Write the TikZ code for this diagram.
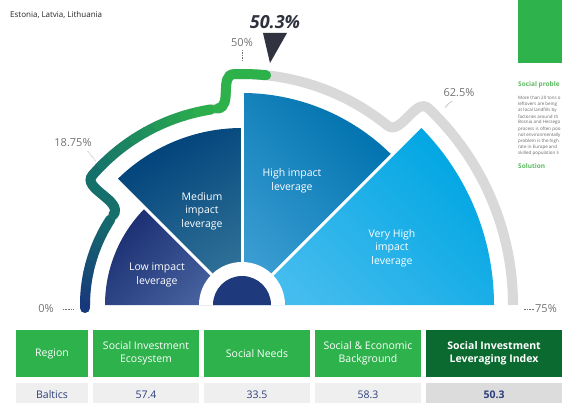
\documentclass[tikz,border=0pt]{standalone}
\usepackage{fontspec}
\setmainfont{Open Sans}
\usetikzlibrary{positioning,calc}

\definecolor{lowtop}{HTML}{1B2F72}
\definecolor{lowbot}{HTML}{4A66A2}
\definecolor{medtop}{HTML}{00427A}
\definecolor{medbot}{HTML}{327399}
\definecolor{hightop}{HTML}{0072AE}
\definecolor{highbot}{HTML}{3A9DD2}
\definecolor{vhtop}{HTML}{00A6E3}
\definecolor{vhbot}{HTML}{45BCEE}
\definecolor{hubblue}{HTML}{1F3A7C}
\definecolor{trackgray}{HTML}{D9D9D9}
\definecolor{tracknavy}{HTML}{17397B}
\definecolor{trackteal}{HTML}{15706C}
\definecolor{trackgreen}{HTML}{2DB24B}
\definecolor{headgreen}{HTML}{2EB24B}
\definecolor{indexgreen}{HTML}{0B6A30}
\definecolor{cellgray}{HTML}{EFEFEF}
\definecolor{indexgray}{HTML}{DCDCDC}
\definecolor{valueblue}{HTML}{2C3E7B}
\definecolor{labelgray}{HTML}{737373}
\definecolor{pointer}{HTML}{30333F}
\definecolor{panelgreen}{HTML}{5DBB63}

\tikzstyle{track} = [line width=10pt, draw=trackgray]
\tikzstyle{greentrack} = [line width=10pt, line cap=round]
\tikzstyle{pct} = [font=\fontsize{11}{13}\selectfont, text=labelgray, inner sep=0pt]
\tikzstyle{leader} = [draw=labelgray, densely dotted, line width=0.6pt]
\tikzstyle{sectorlabel} = [font=\fontsize{10.5}{13.5}\selectfont, text=white, align=center]
\tikzstyle{headcell} = [fill=headgreen, text=white, minimum height=47pt, align=center, inner sep=0pt, font=\fontsize{10.5}{13.5}\selectfont]
\tikzstyle{datacell} = [fill=cellgray, text=valueblue, minimum height=23pt, inner sep=0pt, font=\fontsize{10.5}{13.5}\selectfont]
\tikzstyle{paratext} = [anchor=west, inner sep=0pt, text=black!60, font=\fontsize{4.5}{5}\selectfont]

\begin{document}
\begin{tikzpicture}[x=1pt,y=1pt]

	\useasboundingbox (0,0) rectangle (562,402);
	\fill[white] (0,0) rectangle (562,402);

	\node[anchor=west, inner sep=0pt, text=black!85, font=\fontsize{8}{10}\selectfont] (region) at (10,387) {Estonia, Latvia, Lithuania};

	\coordinate (hub) at (242,97);

	\begin{scope}[shift={(hub)}]
		% sectors
		\shade[top color=lowtop, bottom color=lowbot, shading angle=45] (0,0) -- (180:137pt) arc[start angle=180, end angle=135, radius=137pt] -- cycle;
		\shade[top color=medtop, bottom color=medbot, shading angle=30] (0,0) -- (135:177pt) arc[start angle=135, end angle=90, radius=177pt] -- cycle;
		\shade[top color=hightop, bottom color=highbot, shading angle=-45] (0,0) -- (90:212pt) arc[start angle=90, end angle=45, radius=212pt] -- cycle;
		\shade[top color=vhtop, bottom color=vhbot, shading angle=-45] (0,0) -- (45:252pt) arc[start angle=45, end angle=0, radius=252pt] -- cycle;

		\foreach \a/\r in {135/180, 90/215, 45/256}
			\draw[white, line width=3pt] (0,0) -- (\a:\r pt);

		\fill[white] (43pt,0) arc[start angle=0, end angle=180, radius=43pt] -- cycle;
		\fill[hubblue] (29pt,0) arc[start angle=0, end angle=180, radius=29pt] -- cycle;

		% track
		\draw[track] (180:157pt) arc[start angle=180, end angle=145, radius=157pt]
			to[out=55, in=229] (139:198pt) arc[start angle=139, end angle=97, radius=198pt]
			to[out=7, in=182] (92:231pt) arc[start angle=92, end angle=51, radius=231pt]
			to[out=-39, in=136.5] (46.5:271pt) arc[start angle=46.5, end angle=0, radius=271pt];

		\draw[greentrack, draw=tracknavy] (180:157pt) -- ++(0,-3);
		\foreach \a in {180,177,...,148} {
			\pgfmathtruncatemacro\p{(180-\a)/35*100}
			\pgfmathsetmacro\b{\a-3}
			\draw[greentrack, draw=trackteal!\p!tracknavy] (\a:157pt) arc[start angle=\a, end angle=\b, radius=157pt];
		}
		\draw[greentrack, draw=trackteal] (145:157pt) to[out=55, in=229] (139:198pt);
		\foreach \a in {139,135,...,101} {
			\pgfmathtruncatemacro\p{(139-\a)/38*100}
			\pgfmathsetmacro\b{\a-4}
			\draw[greentrack, draw=trackgreen!\p!trackteal] (\a:198pt) arc[start angle=\a, end angle=\b, radius=198pt];
		}
		\draw[greentrack, draw=trackgreen] (97:198pt) to[out=7, in=182] (92:231pt) arc[start angle=92, end angle=84, radius=231pt];
	\end{scope}

	\node[sectorlabel] (low) at (157,127) {Low impact\\leverage};
	\node[sectorlabel] (medium) at (202,191) {Medium\\impact\\leverage};
	\node[sectorlabel] (high) at (292,221) {High impact\\leverage};
	\node[sectorlabel] (veryhigh) at (392,154) {Very High\\impact\\leverage};

	\node[pct, anchor=east] (p0) at (54,93) {0\%};
	\node[pct] (p1875) at (73,259) {18.75\%};
	\node[pct] (p50) at (242,359) {50\%};
	\node[pct] (p625) at (459,309) {62.5\%};
	\node[pct, anchor=west] (p75) at (535,93) {75\%};

	\draw[leader] ([xshift=9pt]p0.east) -- ++(10,0);
	\draw[leader] ([xshift=-4pt,yshift=-4pt]p1875.south east) -- ++(8,-10);
	\draw[leader] ([yshift=-3pt]p50.south) -- ++(0,-10);
	\draw[leader] ([xshift=8pt,yshift=-4pt]p625.south west) -- ++(-6,-6);
	\draw[leader] ([xshift=-1pt]p75.west) -- ++(-11,0);

	\fill[pointer] (263,369) -- (287,369) -- (270,339) -- cycle;
	\node[text=pointer, font=\fontsize{18}{20}\selectfont\bfseries\itshape] (score) at (275,380) {50.3\%};

	% table
	\foreach \cx/\w/\head/\val [count=\i] in {52/72/Region/Baltics, 146/106/{Social Investment\\Ecosystem}/57.4, 257/106/Social Needs/33.5, 368/106/{Social \& Economic\\Background}/58.3} {
		\node[headcell, minimum width=\w pt] (head\i) at (\cx,48.5) {\head};
		\node[datacell, minimum width=\w pt] (val\i) at (\cx,7.5) {\val};
	}
	\node[headcell, fill=indexgreen, minimum width=136pt, font=\fontsize{10.5}{13.5}\selectfont\bfseries] (head5) at (494,48.5) {Social Investment\\Leveraging Index};
	\node[datacell, fill=indexgray, minimum width=136pt, font=\fontsize{10.5}{13.5}\selectfont\bfseries] (val5) at (494,7.5) {50.3};

	% side panel
	\node[fill=headgreen, minimum width=44pt, minimum height=63pt, inner sep=0pt, anchor=south west] (panel) at (518,339) {};
	\node[anchor=west, inner sep=0pt, text=panelgreen, font=\fontsize{6.5}{8}\selectfont\bfseries] (problem) at (518,317) {Social proble};
	\foreach \t [count=\i] in {More than 20 tons o, leftovers are being, at local landfills by, factories around th, Bosnia and Herzego, process is often poo, not environmentally, problem is the high, rate in Europe and, skilled population li}
		\node[paratext] (para\i) at (518,{304-(\i-1)*6.2}) {\t};
	\node[anchor=west, inner sep=0pt, text=panelgreen, font=\fontsize{6.5}{8}\selectfont\bfseries] (solution) at (518,236) {Solution};

\end{tikzpicture}
\end{document}
